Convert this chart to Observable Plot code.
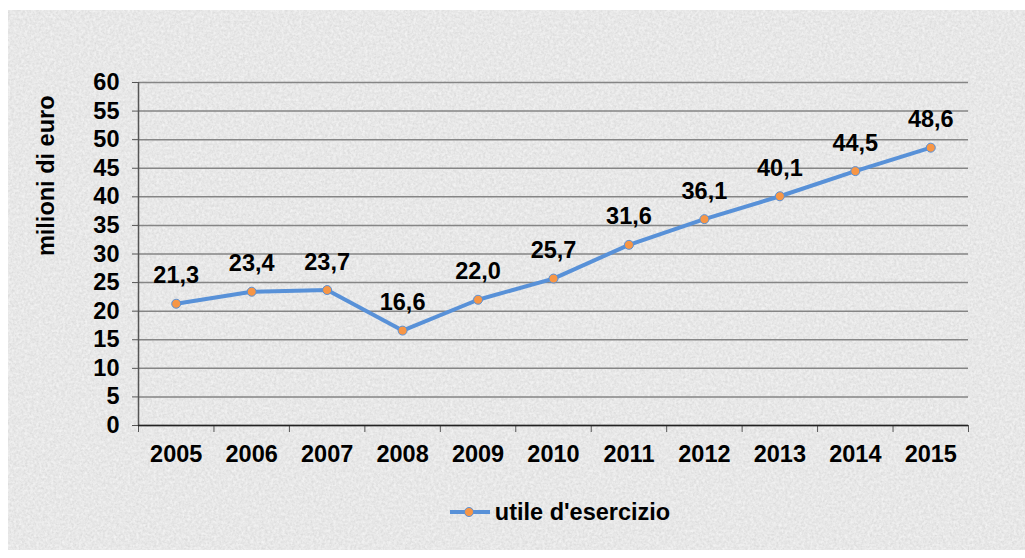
<!DOCTYPE html>
<html>
<head>
<meta charset="utf-8">
<script src="https://cdn.jsdelivr.net/npm/d3@7"></script>
<script src="https://cdn.jsdelivr.net/npm/@observablehq/plot@0.6"></script>
<style>
  html, body { margin: 0; padding: 0; background: #ffffff; }
  #frame {
    position: absolute; left: 8px; top: 10px; width: 1017px; height: 540px;
    background: #e8e8e8; overflow: hidden;
  }
  #tex { position: absolute; left: 0; top: 0; }
  #chart { position: absolute; left: 0; top: 0; width: 1025px; height: 558px; }
  #chart svg { display: block; background: transparent; }
  #legend {
    position: absolute; left: 0; top: 497px; width: 1025px; text-align: center;
    font-family: "Liberation Sans", Arial, sans-serif; font-weight: bold; font-size: 23.5px; color: #000;
  }
  #legend .item { display: inline-flex; align-items: center; margin-left: 95px; }
  #legend svg { margin-right: 5px; }
</style>
</head>
<body>
<div id="frame">
  <svg id="tex" width="1017" height="540">
    <filter id="noise"><feTurbulence type="fractalNoise" baseFrequency="0.45" numOctaves="2" seed="3"/><feColorMatrix type="matrix" values="0 0 0 0 0.6  0 0 0 0 0.6  0 0 0 0 0.6  0 0 0 1.6 -0.6"/></filter>
    <filter id="noise2"><feTurbulence type="fractalNoise" baseFrequency="0.35" numOctaves="2" seed="11"/><feColorMatrix type="matrix" values="0 0 0 0 1  0 0 0 0 1  0 0 0 0 1  0 0 0 1.6 -0.65"/></filter>
    <rect width="1017" height="540" filter="url(#noise)" opacity="0.6"/>
    <rect width="1017" height="540" filter="url(#noise2)" opacity="0.7"/>
  </svg>
</div>
<div id="chart"></div>
<div id="legend"><span class="item"><svg width="40" height="12"><line x1="0" y1="6" x2="40" y2="6" stroke="#5891d8" stroke-width="4"/><circle cx="19" cy="6" r="4.5" fill="#f79646" stroke="#5891d8" stroke-width="1"/></svg>utile d'esercizio</span></div>
<script>
const years = [2005, 2006, 2007, 2008, 2009, 2010, 2011, 2012, 2013, 2014, 2015];
const values = [21.3, 23.4, 23.7, 16.6, 22.0, 25.7, 31.6, 36.1, 40.1, 44.5, 48.6];
const yTicks = [0, 5, 10, 15, 20, 25, 30, 35, 40, 45, 50, 55, 60];
const seriesName = "utile d'esercizio";
const yTitle = "milioni di euro";

const data = years.map((y, i) => ({year: y, value: values[i]}));
const separators = [years[0] - 0.5, ...years.map(y => y + 0.5)];
const fmt = v => v.toFixed(1).replace(".", ",");
const font = "Liberation Sans, Arial, sans-serif";
const fs = 23.5;

const chart = Plot.plot({
  width: 1025,
  height: 480,
  marginLeft: 138,
  marginRight: 57,
  marginTop: 82,
  marginBottom: 55,
  style: {fontFamily: font, fontWeight: "bold", fontSize: fs + "px", color: "#000", background: "transparent"},
  x: {domain: [years[0] - 0.5, years[years.length - 1] + 0.5]},
  y: {domain: [0, 60]},
  marks: [
    Plot.gridY(yTicks, {stroke: "#858585", strokeOpacity: 1, strokeWidth: 1.5}),
    Plot.axisY(yTicks, {tickSize: 6, tickPadding: 13, stroke: "#555", label: null, fontSize: fs, fontWeight: "bold", fill: "#000"}),
    Plot.axisX(separators, {tickSize: 7, stroke: "#555", tickFormat: () => "", label: null}),
    Plot.axisX(years, {tickSize: 0, tickPadding: 20, tickFormat: d => String(d), label: null, fontSize: fs, fontWeight: "bold", fill: "#000"}),
    Plot.ruleX([separators[0]], {stroke: "#555", strokeWidth: 1.5}),
    Plot.ruleY([0], {stroke: "#222", strokeWidth: 1.5}),
    Plot.line(data, {x: "year", y: "value", stroke: "#5891d8", strokeWidth: 4}),
    Plot.dot(data, {x: "year", y: "value", r: 4.5, fill: "#f79646", stroke: "#5891d8", strokeWidth: 1}),
    Plot.text(data, {x: "year", y: "value", text: d => fmt(d.value), dy: -28, fontSize: fs, fontWeight: "bold", fill: "#000"}),
    Plot.text([yTitle], {frameAnchor: "top-left", text: d => d, rotate: -90, textAnchor: "end", dx: -101, dy: 13, fontSize: fs, fontWeight: "bold", fill: "#000"})
  ]
});
document.getElementById("chart").appendChild(chart);
</script>
</body>
</html>
